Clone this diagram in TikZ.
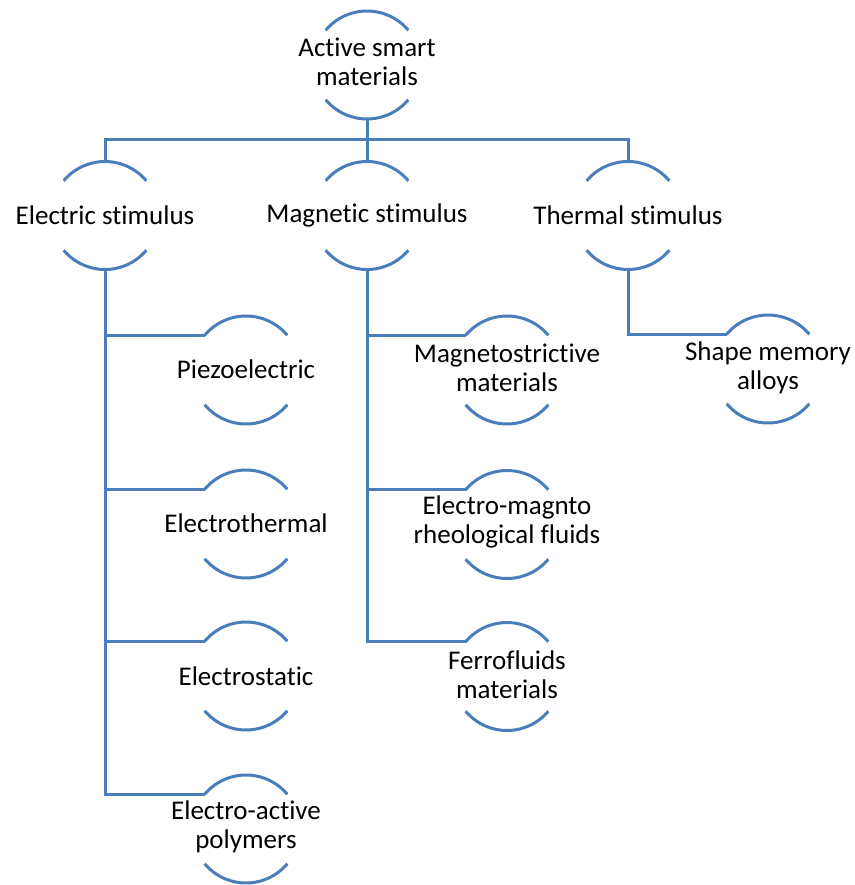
\documentclass[tikz,border=0pt]{standalone}
\usepackage{fontspec}
\setmainfont{Carlito}[Ligatures=NoCommon]
\definecolor{arcblue}{HTML}{4A7EBB}
\begin{document}
\begin{tikzpicture}[x=1pt,y=1pt,
  lbl/.style={shape=rectangle,inner sep=0pt,outer sep=0pt,align=center,
    font=\fontsize{27}{29}\selectfont,text=black},
  arcline/.style={draw=arcblue,line width=3pt},
  conn/.style={draw=arcblue,line width=3pt}]
\useasboundingbox (0,0) rectangle (854,-885);
\def\R{54}
% nodes
\node[lbl] (root)    at (367,-62)  {Active smart\\materials};
\node[lbl] (elec)    at (105,-215) {Electric stimulus};
\node[lbl] (mag)     at (367,-215) {Magnetic stimulus};
\node[lbl] (therm)   at (628,-215) {Thermal stimulus};
\node[lbl] (piezo)   at (246,-369) {Piezoelectric};
\node[lbl] (etherm)  at (246,-523) {Electrothermal};
\node[lbl] (estat)   at (246,-676) {Electrostatic};
\node[lbl] (eap)     at (246,-827) {Electro-active\\polymers};
\node[lbl] (magneto) at (507,-368) {Magnetostrictive\\materials};
\node[lbl] (emr)     at (507,-522) {Electro-magnto\\rheological fluids};
\node[lbl] (ferro)   at (507,-675) {Ferrofluids\\materials};
\node[lbl] (sma)     at (768,-368) {Shape memory\\alloys};
% arc centres
\coordinate (root-c)    at (367,-65);
\coordinate (elec-c)    at (105,-215.5);
\coordinate (mag-c)     at (367,-215.5);
\coordinate (therm-c)   at (628,-215.5);
\coordinate (piezo-c)   at (246,-370);
\coordinate (etherm-c)  at (246,-524);
\coordinate (estat-c)   at (246,-676);
\coordinate (eap-c)     at (246,-829);
\coordinate (magneto-c) at (507,-370);
\coordinate (emr-c)     at (507,-524.5);
\coordinate (ferro-c)   at (507,-676.5);
\coordinate (sma-c)     at (768,-369);
\foreach \n in {root,elec,mag,therm,piezo,etherm,estat,eap,magneto,emr,ferro,sma}{
  \draw[arcline] ([shift={(140:\R)}]\n-c) arc[start angle=140,end angle=40,radius=\R];
  \draw[arcline] ([shift={(220:\R)}]\n-c) arc[start angle=220,end angle=320,radius=\R];
  \coordinate (\n-top) at ([yshift=\R]\n-c);
  \coordinate (\n-bot) at ([yshift=-\R]\n-c);
  \coordinate (\n-in)  at ([shift={(140:\R)}]\n-c);
}
% connectors
\coordinate (bus) at (367,-140);
\draw[conn] (root-bot) -- (mag-top);
\draw[conn] (elec-top) |- (bus) -| (therm-top);
\draw[conn] (elec-bot) |- (piezo-in);
\draw[conn] (elec-bot) |- (etherm-in);
\draw[conn] (elec-bot) |- (estat-in);
\draw[conn] (elec-bot) |- (eap-in);
\draw[conn] (mag-bot) |- (magneto-in);
\draw[conn] (mag-bot) |- (emr-in);
\draw[conn] (mag-bot) |- (ferro-in);
\draw[conn] (therm-bot) |- (sma-in);
\end{tikzpicture}
\end{document}
